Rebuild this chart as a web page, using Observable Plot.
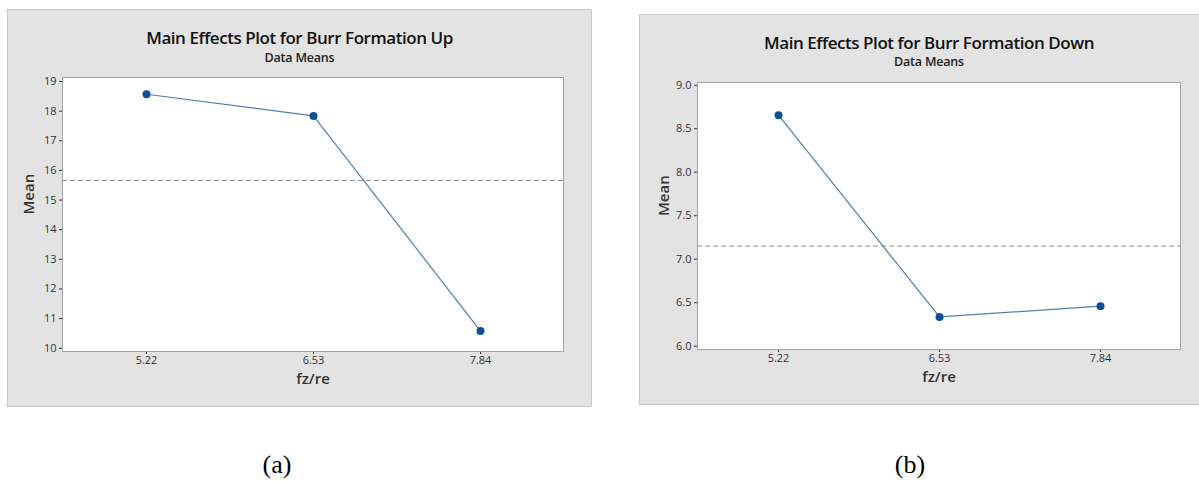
<!DOCTYPE html>
<html>
<head>
<meta charset="utf-8">
<script src="https://cdn.jsdelivr.net/npm/d3@7"></script>
<script src="https://cdn.jsdelivr.net/npm/@observablehq/plot@0.6"></script>
<style>
  html, body { margin: 0; padding: 0; background: #ffffff; }
  #page { position: relative; width: 1199px; height: 481px; overflow: hidden; background: #fff; }
  .panel { position: absolute; background: #e3e3e3; border: 1px solid #c9c9c9; box-sizing: border-box; }
  .title { position: absolute; left: 0; right: 0; text-align: center; font-family: "Open Sans", sans-serif; color: #111; white-space: nowrap; }
  .main { font-size: 17px; font-weight: 600; letter-spacing: -0.45px; }
  .sub { font-size: 12.5px; font-weight: 600; color: #222; letter-spacing: -0.2px; }
  .plotbox { position: absolute; }
  .cap { position: absolute; font-family: "Liberation Serif", "Times New Roman", serif; font-size: 26px; color: #000; transform: translate(-50%, -50%); }
</style>
</head>
<body>
<div id="page">
  <div class="panel" id="pa" style="left:7px; top:9px; width:585px; height:398px;">
    <div class="title main" style="top:16px;">Main Effects Plot for Burr Formation Up</div>
    <div class="title sub" style="top:39px;">Data Means</div>
  </div>
  <div class="panel" id="pb" style="left:639px; top:14px; width:570px; height:391px;">
    <div class="title main" style="top:16px; right:-10px; left:0;">Main Effects Plot for Burr Formation Down</div>
    <div class="title sub" style="top:38px; right:-10px; left:0;">Data Means</div>
  </div>
  <div class="plotbox" id="plotA" style="left:7px; top:60px;"></div>
  <div class="plotbox" id="plotB" style="left:639px; top:60px;"></div>
  <div class="cap" style="left:277px; top:465px;">(a)</div>
  <div class="cap" style="left:910px; top:465px;">(b)</div>
</div>
<script>
// factor levels (x axis)
const levels = ["5.22", "6.53", "7.84"];
// series values (means)
const meansUp = [18.57, 17.84, 10.58];
const meansDown = [8.655, 6.337, 6.46];
// y tick labels
const ticksUp = [10, 11, 12, 13, 14, 15, 16, 17, 18, 19];
const ticksDown = [6.0, 6.5, 7.0, 7.5, 8.0, 8.5, 9.0];

function panel(values, yDomain, yTicks, fmt, dims) {
  const data = levels.map((l, i) => ({level: l, mean: values[i]}));
  const grand = d3.mean(values);
  return Plot.plot({
    width: dims.width,
    height: dims.height,
    marginLeft: dims.ml,
    marginRight: dims.mr,
    marginTop: dims.mt,
    marginBottom: dims.mb,
    style: {background: "transparent", fontFamily: "'Open Sans', sans-serif", fontSize: "11px", color: "#333", overflow: "visible"},
    x: {type: "point", domain: levels, padding: 0.5, label: null, tickSize: 3, tickPadding: 2},
    y: {domain: yDomain, ticks: yTicks, tickFormat: fmt, label: null, tickSize: 3, tickPadding: 3},
    marks: [
      Plot.frame({fill: "white", stroke: "#a3a3a3"}),
      Plot.ruleY([grand], {stroke: "#8c8c8c", strokeDasharray: "5,3", strokeWidth: 1}),
      Plot.line(data, {x: "level", y: "mean", stroke: "#4f80ad", strokeWidth: 1.2}),
      Plot.dot(data, {x: "level", y: "mean", r: 4, fill: "#0f4f99", stroke: "none"}),
      Plot.text(["fz/re"], {text: d => d, frameAnchor: "bottom", dy: 32, fontSize: 15, fontWeight: "600", fill: "#333"}),
      Plot.text(["Mean"], {text: d => d, frameAnchor: "left", dx: -33, rotate: -90, fontSize: 15, fontWeight: "600", fill: "#333"})
    ]
  });
}

document.getElementById("plotA").appendChild(
  panel(meansUp, [9.89, 19.135], ticksUp, d3.format("d"),
    {width: 584, height: 346, ml: 55, mr: 28, mt: 17, mb: 55}));
document.getElementById("plotB").appendChild(
  panel(meansDown, [5.962, 9.031], ticksDown, d3.format(".1f"),
    {width: 560, height: 344, ml: 58, mr: 19, mt: 22, mb: 55}));
</script>
</body>
</html>
